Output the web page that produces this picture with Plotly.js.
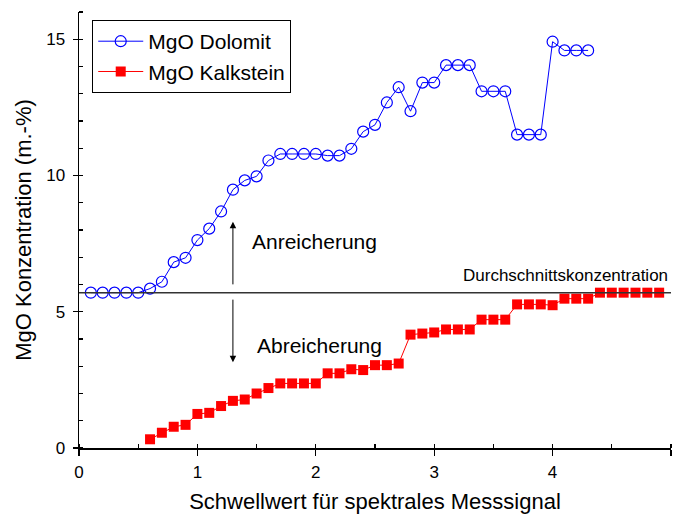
<!DOCTYPE html>
<html>
<head>
<meta charset="utf-8">
<script src="https://cdn.plot.ly/plotly-3.0.1.min.js"></script>
<style>html,body{margin:0;padding:0;background:#fff}</style>
</head>
<body>
<div id="chart" style="width:674px;height:515px"></div>
<script>
// Schwellwert (spectral signal threshold) and MgO content, dolomite series
const schwellwertDolomit = [0.1, 0.2, 0.3, 0.4, 0.5, 0.6, 0.7, 0.8, 0.9, 1.0,
  1.1, 1.2, 1.3, 1.4, 1.5, 1.6, 1.7, 1.8, 1.9, 2.0,
  2.1, 2.2, 2.3, 2.4, 2.5, 2.6, 2.7, 2.8, 2.9, 3.0,
  3.1, 3.2, 3.3, 3.4, 3.5, 3.6, 3.7, 3.8, 3.9, 4.0,
  4.1, 4.2, 4.3];
const mgoDolomit = [5.7, 5.7, 5.7, 5.7, 5.7, 5.85, 6.1, 6.82, 6.98, 7.63,
  8.05, 8.68, 9.48, 9.82, 9.97, 10.55, 10.79, 10.79, 10.79, 10.79,
  10.73, 10.73, 10.98, 11.61, 11.86, 12.68, 13.24, 12.36, 13.41, 13.41,
  14.05, 14.05, 14.05, 13.09, 13.09, 13.09, 11.5, 11.5, 11.5, 14.91,
  14.59, 14.59, 14.59];

// limestone series
const schwellwertKalkstein = [0.6, 0.7, 0.8, 0.9, 1.0,
  1.1, 1.2, 1.3, 1.4, 1.5, 1.6, 1.7, 1.8, 1.9, 2.0,
  2.1, 2.2, 2.3, 2.4, 2.5, 2.6, 2.7, 2.8, 2.9, 3.0,
  3.1, 3.2, 3.3, 3.4, 3.5, 3.6, 3.7, 3.8, 3.9, 4.0,
  4.1, 4.2, 4.3, 4.4, 4.5, 4.6, 4.7, 4.8, 4.9];
const mgoKalkstein = [0.32, 0.56, 0.78, 0.85, 1.25,
  1.29, 1.54, 1.73, 1.78, 2.0, 2.2, 2.37, 2.37, 2.37, 2.37,
  2.74, 2.74, 2.89, 2.86, 3.04, 3.04, 3.1, 4.16, 4.2, 4.24,
  4.35, 4.35, 4.35, 4.71, 4.71, 4.71, 5.27, 5.27, 5.27, 5.24,
  5.48, 5.48, 5.48, 5.7, 5.7, 5.7, 5.7, 5.7, 5.7];

// mean concentration (horizontal reference line)
const durchschnitt = 5.7;

const xTicks = [0, 1, 2, 3, 4, 5];
const yTicks = [0, 5, 10, 15];
const serienNamen = ['MgO Dolomit', 'MgO Kalkstein'];

const FONT = 'Liberation Sans, Arial, Helvetica, sans-serif';

const traces = [
  {
    x: schwellwertDolomit, y: mgoDolomit, name: serienNamen[0],
    type: 'scatter', mode: 'lines+markers',
    line: {color: '#0000ff', width: 1},
    marker: {symbol: 'circle-open', size: 11, color: '#0000ff', line: {width: 1.2}}
  },
  {
    x: schwellwertKalkstein, y: mgoKalkstein, name: serienNamen[1],
    type: 'scatter', mode: 'lines+markers',
    line: {color: '#ff0000', width: 1},
    marker: {symbol: 'square', size: 10, color: '#ff0000', line: {width: 0}}
  }
];

const axisCommon = {
  showline: true, linecolor: '#000', linewidth: 1.5,
  showgrid: false, zeroline: false,
  ticks: 'outside', ticklen: 5, tickwidth: 1.2, tickcolor: '#000'
};

const layout = {
  width: 674, height: 515,
  margin: {l: 79, r: 3, t: 12, b: 67},
  paper_bgcolor: '#fff', plot_bgcolor: '#fff',
  font: {family: FONT, size: 17, color: '#000'},
  showlegend: true,
  legend: {
    x: 0.022, y: 0.982, xanchor: 'left', yanchor: 'top',
    bordercolor: '#000', borderwidth: 1.2, bgcolor: '#fff',
    font: {family: FONT, size: 21, color: '#000'},
    itemwidth: 45, tracegroupgap: 0
  },
  xaxis: Object.assign({}, axisCommon, {
    range: [0, 5], tickmode: 'array', tickvals: xTicks, ticktext: xTicks.map(String),
    ticklen: 6, ticklabelstandoff: 2,
    minor: {tick0: 0, dtick: 0.5, ticks: 'inside', ticklen: 4, tickwidth: 1.2, tickcolor: '#000'},
    title: {text: 'Schwellwert für spektrales Messsignal', font: {family: FONT, size: 22}, standoff: 12}
  }),
  yaxis: Object.assign({}, axisCommon, {
    range: [0, 16], tickmode: 'array', tickvals: yTicks, ticktext: yTicks.map(String),
    ticklabelstandoff: 4,
    minor: {tick0: 0, dtick: 1, ticks: 'inside', ticklen: 4, tickwidth: 1.2, tickcolor: '#000'},
    title: {text: 'MgO Konzentration (m.-%)', font: {family: FONT, size: 22}, standoff: 8}
  }),
  // inner half of the crossing major ticks
  xaxis2: {
    overlaying: 'x', anchor: 'y', side: 'bottom', range: [0, 5],
    tickmode: 'array', tickvals: xTicks, showticklabels: false,
    ticks: 'inside', ticklen: 5, tickwidth: 1.2, tickcolor: '#000',
    showline: false, showgrid: false, zeroline: false
  },
  yaxis2: {
    overlaying: 'y', anchor: 'x', side: 'left', range: [0, 16],
    tickmode: 'array', tickvals: yTicks, showticklabels: false,
    ticks: 'inside', ticklen: 5, tickwidth: 1.2, tickcolor: '#000',
    showline: false, showgrid: false, zeroline: false
  },
  shapes: [{
    type: 'line', xref: 'paper', x0: 0, x1: 1, yref: 'y', y0: durchschnitt, y1: durchschnitt,
    line: {color: '#333', width: 1.5}
  }],
  annotations: [
    {x: 1.3, y: 8.3, ax: 1.3, ay: 5.95, xref: 'x', yref: 'y', axref: 'x', ayref: 'y',
     text: '', showarrow: true, arrowhead: 2, arrowsize: 1.3, arrowwidth: 1, arrowcolor: '#000'},
    {x: 1.3, y: 3.15, ax: 1.3, ay: 5.5, xref: 'x', yref: 'y', axref: 'x', ayref: 'y',
     text: '', showarrow: true, arrowhead: 2, arrowsize: 1.3, arrowwidth: 1, arrowcolor: '#000'},
    {x: 1.44, y: 7.56, xref: 'x', yref: 'y', xanchor: 'left', yanchor: 'middle',
     text: 'Anreicherung', showarrow: false, font: {family: FONT, size: 21, color: '#000'}},
    {x: 1.485, y: 3.78, xref: 'x', yref: 'y', xanchor: 'left', yanchor: 'middle',
     text: 'Abreicherung', showarrow: false, font: {family: FONT, size: 21, color: '#000'}},
    {x: 4.99, y: 6.33, xref: 'x', yref: 'y', xanchor: 'right', yanchor: 'middle',
     text: 'Durchschnittskonzentration', showarrow: false, font: {family: FONT, size: 17, color: '#000'}}
  ]
};

Plotly.newPlot('chart', traces, layout, {displayModeBar: false, staticPlot: true});
</script>
</body>
</html>
